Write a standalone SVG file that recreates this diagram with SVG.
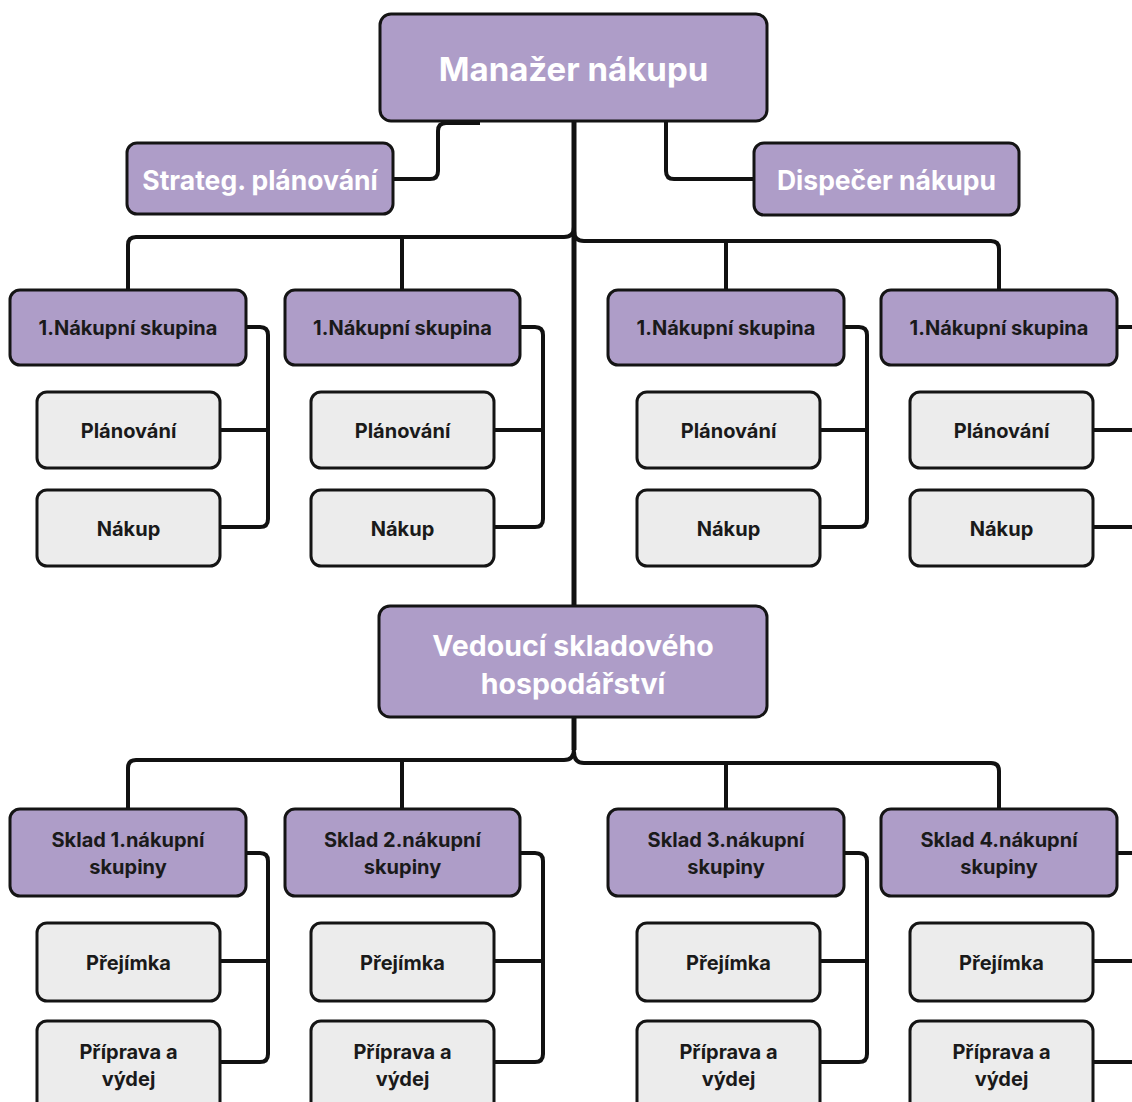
<svg xmlns="http://www.w3.org/2000/svg" width="1132" height="1102" viewBox="0 0 1132 1102">
  <style>
    .lead { fill: #ae9dc8; stroke: #141414; stroke-width: 3; }
    .task { fill: #ececec; stroke: #141414; stroke-width: 3; }
    .wire { fill: none; stroke: #111; stroke-width: 4; stroke-linejoin: round; }
    .trunk { fill: none; stroke: #111; stroke-width: 5; }
    .t-big { font-family: Inter, "Noto Sans", "DejaVu Sans", sans-serif; font-weight: 700; fill: #fff; text-anchor: middle; dominant-baseline: central; }
    .t-mid { font-family: Inter, "Noto Sans", "DejaVu Sans", sans-serif; font-weight: 700; fill: #1a1a1a; text-anchor: middle; dominant-baseline: central; font-size: 20px; }
  </style>
  <rect width="1132" height="1102" fill="#fff"/>

  <g id="connectors">
    <!-- main trunk -->
    <path class="trunk" d="M574,121 V606"/>
    <path class="trunk" d="M574,717 V750"/>
    <!-- side staff -->
    <path class="wire" d="M480,123 H446 Q438,123 438,131 V171 Q438,179 430,179 H393"/>
    <path class="wire" d="M666,121 V171 Q666,179 674,179 H755"/>
    <!-- upper bus -->
    <path class="wire" d="M574,227 Q574,237 564,237 H136 Q128,237 128,245 V290"/>
    <path class="wire" d="M574,231 Q574,241 584,241 H991 Q999,241 999,249 V290"/>
    <path class="wire" d="M402,237 V290"/>
    <path class="wire" d="M726,241 V290"/>
    <!-- purchasing groups -->
    <path class="wire" d="M246,327 H260 Q268,327 268,335 V519 Q268,527 260,527 H220 M220,430 H268"/>
    <path class="wire" d="M520,327 H535 Q543,327 543,335 V519 Q543,527 535,527 H494 M494,430 H543"/>
    <path class="wire" d="M844,327 H859 Q867,327 867,335 V519 Q867,527 859,527 H820 M820,430 H867"/>
    <path class="wire" d="M1117,327 H1134 M1093,430 H1134 M1093,527 H1134"/>
    <!-- lower bus -->
    <path class="wire" d="M574,749 Q574,760 564,760 H136 Q128,760 128,768 V809"/>
    <path class="wire" d="M574,752 Q574,763 584,763 H991 Q999,763 999,771 V809"/>
    <path class="wire" d="M402,760 V809"/>
    <path class="wire" d="M726,763 V809"/>
    <!-- warehouses -->
    <path class="wire" d="M246,853 H260 Q268,853 268,861 V1054 Q268,1062 260,1062 H220 M220,961 H268"/>
    <path class="wire" d="M520,853 H535 Q543,853 543,861 V1054 Q543,1062 535,1062 H494 M494,961 H543"/>
    <path class="wire" d="M844,853 H859 Q867,853 867,861 V1054 Q867,1062 859,1062 H820 M820,961 H867"/>
    <path class="wire" d="M1117,853 H1134 M1093,961 H1134 M1093,1062 H1134"/>
  </g>

  <g id="manazer">
    <rect class="lead" x="380" y="14" width="387" height="107" rx="11"/>
    <text class="t-big" x="573.5" y="69" font-size="33">Manažer nákupu</text>
  </g>
  <g id="strateg">
    <rect class="lead" x="127" y="143" width="266" height="71" rx="10"/>
    <text class="t-big" x="260" y="180" font-size="26.5">Strateg. plánování</text>
  </g>
  <g id="dispecer">
    <rect class="lead" x="754" y="143" width="265" height="72" rx="10"/>
    <text class="t-big" x="886.5" y="180" font-size="26.5">Dispečer nákupu</text>
  </g>

  <g id="skupina-1">
    <rect class="lead" x="10" y="290" width="236" height="75" rx="10"/>
    <text class="t-mid" x="128" y="328">1.Nákupní skupina</text>
  </g>
  <g id="skupina-1-planovani">
    <rect class="task" x="37" y="392" width="183" height="76" rx="10"/>
    <text class="t-mid" x="128.5" y="431">Plánování</text>
  </g>
  <g id="skupina-1-nakup">
    <rect class="task" x="37" y="490" width="183" height="76" rx="10"/>
    <text class="t-mid" x="128.5" y="529">Nákup</text>
  </g>

  <g id="skupina-2">
    <rect class="lead" x="285" y="290" width="235" height="75" rx="10"/>
    <text class="t-mid" x="402.5" y="328">1.Nákupní skupina</text>
  </g>
  <g id="skupina-2-planovani">
    <rect class="task" x="311" y="392" width="183" height="76" rx="10"/>
    <text class="t-mid" x="402.5" y="431">Plánování</text>
  </g>
  <g id="skupina-2-nakup">
    <rect class="task" x="311" y="490" width="183" height="76" rx="10"/>
    <text class="t-mid" x="402.5" y="529">Nákup</text>
  </g>

  <g id="skupina-3">
    <rect class="lead" x="608" y="290" width="236" height="75" rx="10"/>
    <text class="t-mid" x="726" y="328">1.Nákupní skupina</text>
  </g>
  <g id="skupina-3-planovani">
    <rect class="task" x="637" y="392" width="183" height="76" rx="10"/>
    <text class="t-mid" x="728.5" y="431">Plánování</text>
  </g>
  <g id="skupina-3-nakup">
    <rect class="task" x="637" y="490" width="183" height="76" rx="10"/>
    <text class="t-mid" x="728.5" y="529">Nákup</text>
  </g>

  <g id="skupina-4">
    <rect class="lead" x="881" y="290" width="236" height="75" rx="10"/>
    <text class="t-mid" x="999" y="328">1.Nákupní skupina</text>
  </g>
  <g id="skupina-4-planovani">
    <rect class="task" x="910" y="392" width="183" height="76" rx="10"/>
    <text class="t-mid" x="1001.5" y="431">Plánování</text>
  </g>
  <g id="skupina-4-nakup">
    <rect class="task" x="910" y="490" width="183" height="76" rx="10"/>
    <text class="t-mid" x="1001.5" y="529">Nákup</text>
  </g>

  <g id="vedouci">
    <rect class="lead" x="379" y="606" width="388" height="111" rx="11"/>
    <text class="t-big" x="573" y="645" font-size="28.5">Vedoucí skladového</text>
    <text class="t-big" x="573" y="683" font-size="28.5">hospodářství</text>
  </g>

  <g id="sklad-1">
    <rect class="lead" x="10" y="809" width="236" height="87" rx="10"/>
    <text class="t-mid" x="128" y="840">Sklad 1.nákupní</text>
    <text class="t-mid" x="128" y="867">skupiny</text>
  </g>
  <g id="sklad-1-prejimka">
    <rect class="task" x="37" y="923" width="183" height="78" rx="10"/>
    <text class="t-mid" x="128.5" y="963">Přejímka</text>
  </g>
  <g id="sklad-1-priprava">
    <rect class="task" x="37" y="1021" width="183" height="95" rx="10"/>
    <text class="t-mid" x="128.5" y="1052">Příprava a</text>
    <text class="t-mid" x="128.5" y="1079">výdej</text>
  </g>

  <g id="sklad-2">
    <rect class="lead" x="285" y="809" width="235" height="87" rx="10"/>
    <text class="t-mid" x="402.5" y="840">Sklad 2.nákupní</text>
    <text class="t-mid" x="402.5" y="867">skupiny</text>
  </g>
  <g id="sklad-2-prejimka">
    <rect class="task" x="311" y="923" width="183" height="78" rx="10"/>
    <text class="t-mid" x="402.5" y="963">Přejímka</text>
  </g>
  <g id="sklad-2-priprava">
    <rect class="task" x="311" y="1021" width="183" height="95" rx="10"/>
    <text class="t-mid" x="402.5" y="1052">Příprava a</text>
    <text class="t-mid" x="402.5" y="1079">výdej</text>
  </g>

  <g id="sklad-3">
    <rect class="lead" x="608" y="809" width="236" height="87" rx="10"/>
    <text class="t-mid" x="726" y="840">Sklad 3.nákupní</text>
    <text class="t-mid" x="726" y="867">skupiny</text>
  </g>
  <g id="sklad-3-prejimka">
    <rect class="task" x="637" y="923" width="183" height="78" rx="10"/>
    <text class="t-mid" x="728.5" y="963">Přejímka</text>
  </g>
  <g id="sklad-3-priprava">
    <rect class="task" x="637" y="1021" width="183" height="95" rx="10"/>
    <text class="t-mid" x="728.5" y="1052">Příprava a</text>
    <text class="t-mid" x="728.5" y="1079">výdej</text>
  </g>

  <g id="sklad-4">
    <rect class="lead" x="881" y="809" width="236" height="87" rx="10"/>
    <text class="t-mid" x="999" y="840">Sklad 4.nákupní</text>
    <text class="t-mid" x="999" y="867">skupiny</text>
  </g>
  <g id="sklad-4-prejimka">
    <rect class="task" x="910" y="923" width="183" height="78" rx="10"/>
    <text class="t-mid" x="1001.5" y="963">Přejímka</text>
  </g>
  <g id="sklad-4-priprava">
    <rect class="task" x="910" y="1021" width="183" height="95" rx="10"/>
    <text class="t-mid" x="1001.5" y="1052">Příprava a</text>
    <text class="t-mid" x="1001.5" y="1079">výdej</text>
  </g>
</svg>
